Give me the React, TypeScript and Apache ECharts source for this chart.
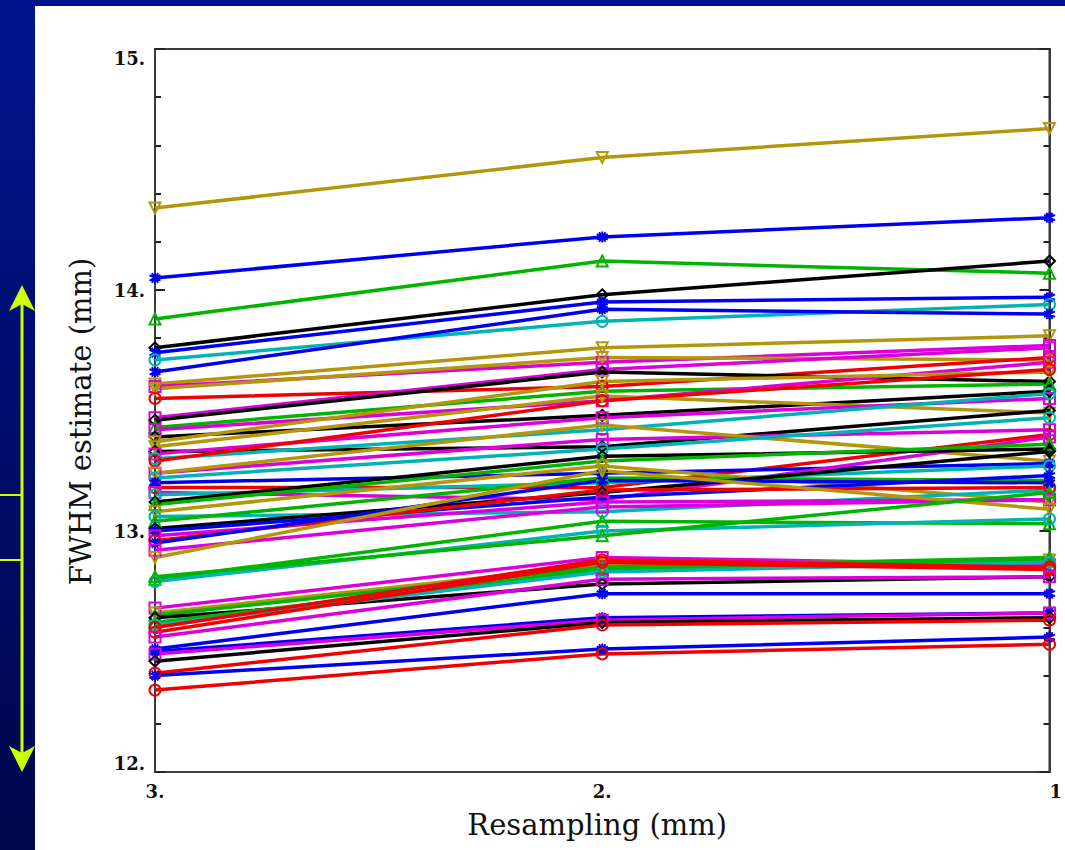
import React, { useEffect, useRef } from "react";
import * as echarts from "echarts";

// Resampling positions (mm) on the x axis
const resampling = [3, 2, 1];
const xTickLabels: Record<number, string> = { 3: "3.", 2: "2.", 1: "1" };
const yTickLabels: Record<number, string> = { 12: "12.", 13: "13.", 14: "14.", 15: "15." };

// FWHM estimates (mm) for each subject at 3 mm, 2 mm and 1 mm resampling
const fwhmAt3 = [14.34, 14.05, 13.88, 13.76, 13.74, 13.71, 13.66, 13.61, 13.60, 13.59, 13.55, 13.47, 13.46, 13.43, 13.42, 13.39, 13.37, 13.35, 13.33, 13.32, 13.30, 13.29, 13.24, 13.24, 13.22, 13.18, 13.20, 13.16, 13.15, 13.12, 13.11, 13.08, 13.06, 13.04, 13.01, 13.00, 12.98, 12.96, 12.95, 12.92, 12.89, 12.80, 12.79, 12.81, 12.68, 12.66, 12.65, 12.64, 12.62, 12.61, 12.60, 12.58, 12.56, 12.51, 12.50, 12.49, 12.46, 12.41, 12.40, 12.34];
const fwhmAt2 = [14.55, 14.22, 14.12, 13.98, 13.95, 13.87, 13.92, 13.76, 13.70, 13.72, 13.60, 13.67, 13.66, 13.58, 13.54, 13.48, 13.62, 13.56, 13.35, 13.47, 13.42, 13.54, 13.38, 13.44, 13.34, 13.18, 13.24, 13.13, 13.20, 13.31, 13.29, 13.27, 13.08, 13.22, 13.16, 13.14, 13.12, 13.17, 13.21, 13.10, 13.25, 13.04, 13.00, 12.98, 12.89, 12.86, 12.85, 12.78, 12.84, 12.83, 12.88, 12.87, 12.80, 12.74, 12.64, 12.63, 12.62, 12.61, 12.51, 12.49];
const fwhmAt1 = [14.67, 14.30, 14.07, 14.12, 13.97, 13.94, 13.90, 13.81, 13.77, 13.71, 13.72, 13.76, 13.62, 13.61, 13.70, 13.58, 13.66, 13.49, 13.50, 13.55, 13.57, 13.67, 13.42, 13.29, 13.47, 13.40, 13.28, 13.39, 13.27, 13.34, 13.36, 13.12, 13.17, 13.21, 13.33, 13.23, 13.13, 13.18, 13.20, 13.13, 13.09, 13.03, 13.05, 13.16, 12.86, 12.88, 12.89, 12.81, 12.88, 12.87, 12.85, 12.84, 12.81, 12.74, 12.66, 12.66, 12.64, 12.63, 12.56, 12.53];
const seriesColorKeys = ["gold", "blue", "green", "black", "blue", "cyan", "blue", "gold", "magenta", "gold", "red", "magenta", "black", "green", "magenta", "black", "gold", "gold", "black", "magenta", "cyan", "red", "magenta", "gold", "cyan", "red", "blue", "magenta", "cyan", "black", "green", "gold", "cyan", "green", "black", "blue", "magenta", "red", "blue", "magenta", "gold", "green", "cyan", "green", "magenta", "gold", "green", "black", "green", "cyan", "red", "red", "magenta", "blue", "blue", "magenta", "black", "red", "blue", "red"];

const palette: Record<string, string> = {
  black: "#000000",
  red: "#f00000",
  green: "#00b400",
  blue: "#0000f0",
  cyan: "#00b4b4",
  magenta: "#dc00dc",
  gold: "#b4960a",
};
const markers: Record<string, string> = {
  black: "diamond",
  red: "circle",
  green: "triangle",
  blue: "path://M0,-10L0,10M-8.7,-5L8.7,5M-8.7,5L8.7,-5M-5,-8.7L5,8.7M-5,8.7L5,-8.7",
  cyan: "circle",
  magenta: "rect",
  gold: "path://M-10,-9L10,-9L0,9Z",
};

export default function App() {
  const ref = useRef<HTMLDivElement>(null);
  useEffect(() => {
    const chart = echarts.init(ref.current!, null, { renderer: "svg" });
    const series = fwhmAt3.map((_, i) => {
      const key = seriesColorKeys[i];
      const c = palette[key];
      return {
        type: "line",
        name: "s" + (i + 1),
        data: [
          [resampling[0], fwhmAt3[i]],
          [resampling[1], fwhmAt2[i]],
          [resampling[2], fwhmAt1[i]],
        ],
        symbol: markers[key],
        symbolSize: 11,
        lineStyle: { color: c, width: 3.5 },
        itemStyle: { color: "rgba(255,255,255,0)", borderColor: c, borderWidth: 2 },
        emphasis: { disabled: true },
        z: 2,
      };
    });
    const axisLine = { show: true, lineStyle: { color: "#3c3c3c", width: 2 } };
    chart.setOption({
      animation: false,
      backgroundColor: "#ffffff",
      grid: { left: 155, right: 9, top: 49, bottom: 78, show: true, borderColor: "#3c3c3c", borderWidth: 2 },
      xAxis: {
        type: "value",
        min: 1,
        max: 3,
        interval: 1,
        inverse: true,
        name: "Resampling (mm)",
        nameLocation: "middle",
        nameGap: 38,
        nameTextStyle: { fontFamily: "DejaVu Serif", fontSize: 29, color: "#111", padding: [0, 10, 0, 0] },
        axisLine,
        axisTick: { show: false },
        splitLine: { show: false },
        axisLabel: {
          formatter: (v: number) => xTickLabels[v] ?? "",
          fontFamily: "DejaVu Serif",
          fontSize: 18,
          fontWeight: "bold",
          color: "#111",
          margin: 10,
          alignMinLabel: "left",
          alignMaxLabel: "center",
        },
      },
      yAxis: [
        {
          type: "value",
          min: 12,
          max: 15,
          interval: 1,
          position: "left",
          name: "FWHM estimate (mm)",
          nameLocation: "middle",
          nameGap: 60,
          nameRotate: 90,
          nameTextStyle: { fontFamily: "DejaVu Serif", fontSize: 29, color: "#111", padding: [0, 22, 0, 0] },
          axisLine,
          axisTick: { show: true, inside: true, length: 10, lineStyle: { color: "#222", width: 2 } },
          minorTick: { show: true, splitNumber: 5, length: 6, lineStyle: { color: "#222", width: 2 } },
          splitLine: { show: false },
          axisLabel: {
            formatter: (v: number) => yTickLabels[v] ?? "",
            fontFamily: "DejaVu Serif",
            fontSize: 18,
            fontWeight: "bold",
            color: "#111",
            margin: 10,
            verticalAlignMinLabel: "bottom",
            verticalAlignMaxLabel: "top",
          },
        },
        {
          type: "value",
          min: 12,
          max: 15,
          interval: 1,
          position: "right",
          axisLine,
          axisTick: { show: true, inside: true, length: 10, lineStyle: { color: "#222", width: 2 } },
          minorTick: { show: true, splitNumber: 5, length: 6, lineStyle: { color: "#222", width: 2 } },
          splitLine: { show: false },
          axisLabel: { show: false },
        },
      ],
      graphic: [
        {
          type: "rect",
          left: 0,
          top: 0,
          shape: { width: 35, height: 850 },
          style: {
            fill: new echarts.graphic.LinearGradient(0, 0, 0, 1, [
              { offset: 0, color: "#00138e" },
              { offset: 1, color: "#00074a" },
            ]),
          },
          z: 10,
        },
        { type: "rect", left: 0, top: 0, shape: { width: 1065, height: 6 }, style: { fill: "#00138e" }, z: 10 },
        { type: "line", shape: { x1: 22, y1: 300, x2: 22, y2: 758 }, style: { stroke: "#ccff00", lineWidth: 3 }, z: 11 },
        { type: "line", shape: { x1: 0, y1: 495, x2: 22, y2: 495 }, style: { stroke: "#ccff00", lineWidth: 2 }, z: 11 },
        { type: "line", shape: { x1: 0, y1: 560, x2: 22, y2: 560 }, style: { stroke: "#ccff00", lineWidth: 2 }, z: 11 },
        { type: "polygon", shape: { points: [[22, 285], [9, 311], [22, 304], [35, 311]] }, style: { fill: "#ccff00" }, z: 11 },
        { type: "polygon", shape: { points: [[22, 772], [9, 746], [22, 753], [35, 746]] }, style: { fill: "#ccff00" }, z: 11 },
      ],
      series,
    });
    return () => chart.dispose();
  }, []);
  return <div ref={ref} style={{ position: "fixed", left: 0, top: 0, width: 1065, height: 850 }} />;
}
